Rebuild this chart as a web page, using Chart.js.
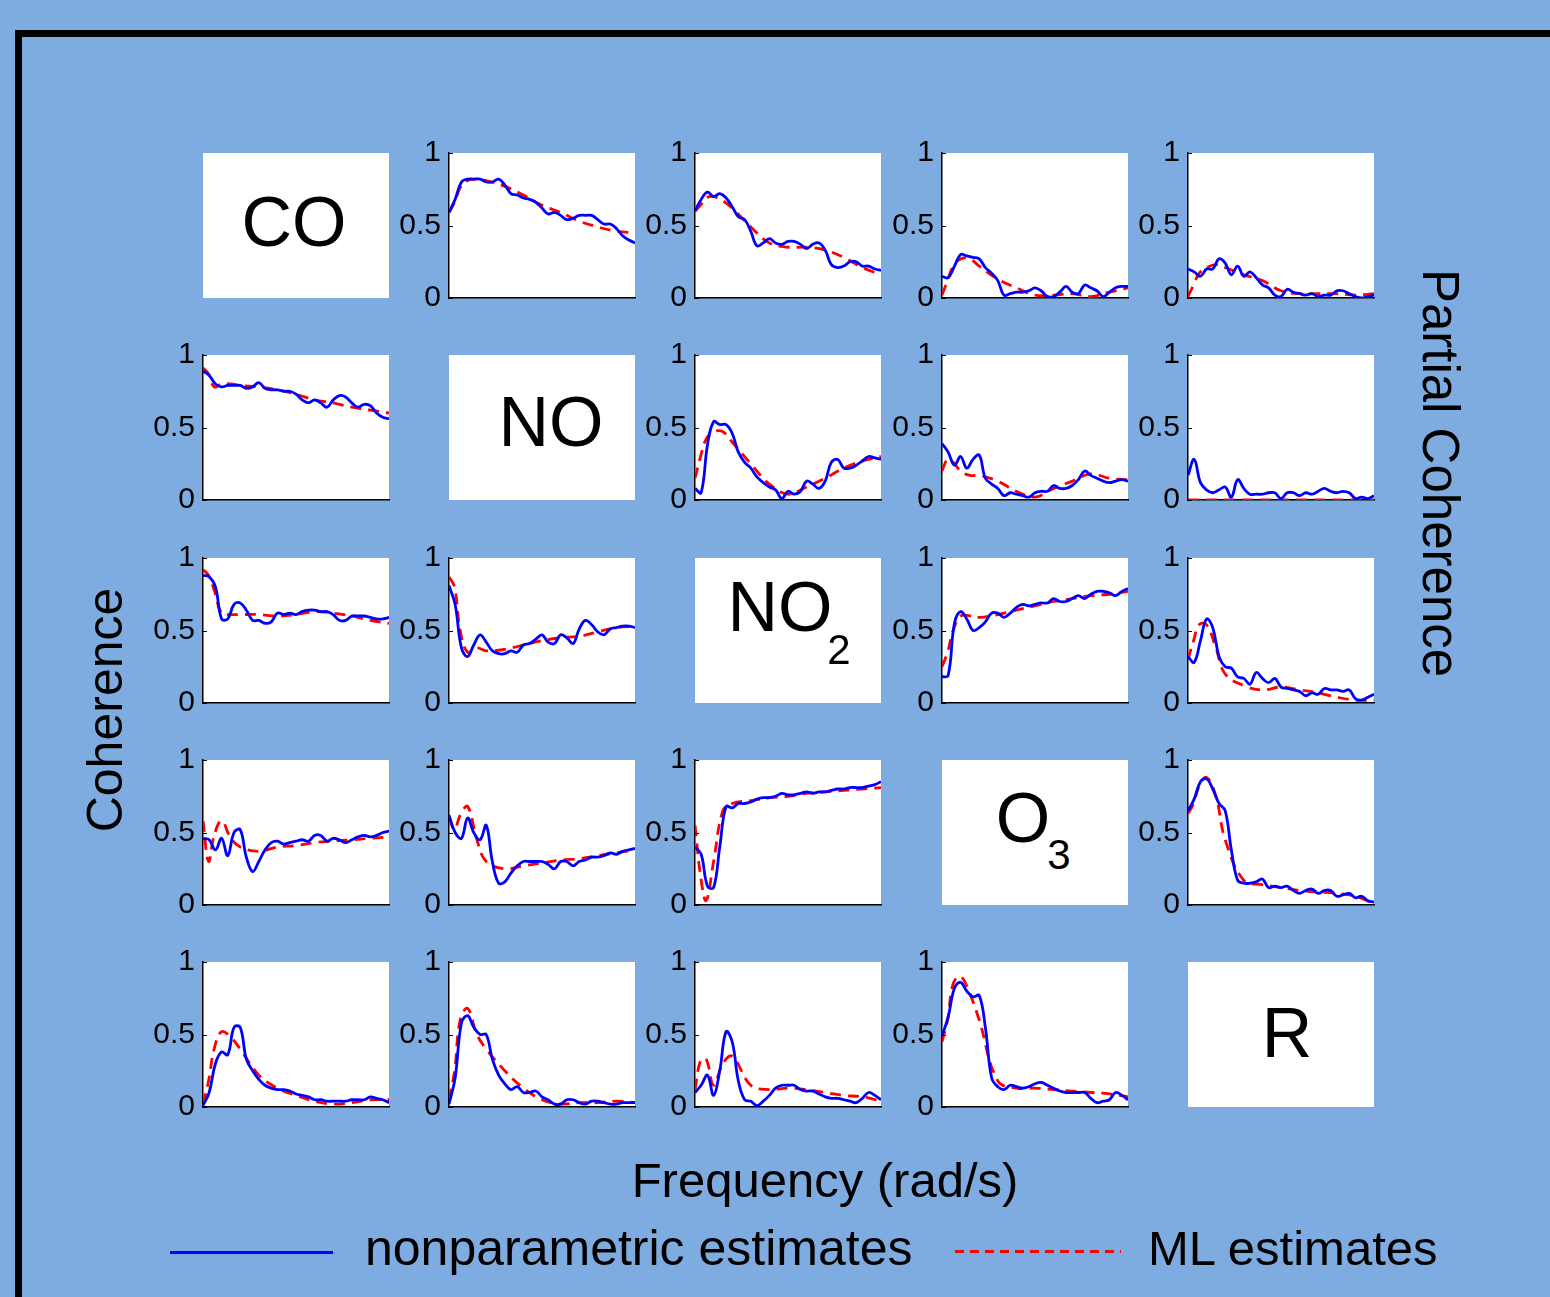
<!DOCTYPE html>
<html>
<head>
<meta charset="utf-8">
<script src="https://cdn.jsdelivr.net/npm/chart.js@4.4.0/dist/chart.umd.min.js"></script>
<style>
body{margin:0;background:#7EACE0;width:1550px;height:1297px;overflow:hidden;position:relative;font-family:"Liberation Sans",Arial,sans-serif;}
#frame{position:absolute;left:15px;top:30px;width:1600px;height:1400px;border-top:7px solid #000;border-left:7px solid #000;}
.cell{position:absolute;width:258px;height:205px;}
.diag{position:absolute;background:#fff;width:186px;height:145px;}
.lbl{position:absolute;white-space:nowrap;line-height:1;color:#000;transform:translate(-50%,-50%);}
.leg{position:absolute;white-space:nowrap;line-height:1;color:#000;font-size:50px;transform:translate(0,-50%);}
</style>
</head>
<body>
<div id="frame"></div>
<div id="grid"></div>

<div class="lbl" style="left:105px;top:710px;font-size:50px;transform:translate(-50%,-50%) rotate(-90deg);">Coherence</div>
<div class="lbl" style="left:1440px;top:473px;font-size:51px;transform:translate(-50%,-50%) rotate(90deg);">Partial Coherence</div>
<div class="lbl" style="left:825px;top:1180px;font-size:49px;">Frequency (rad/s)</div>

<div style="position:absolute;left:170px;top:1251px;width:163px;height:3px;background:#0000FF;"></div>
<div class="leg" style="left:365px;top:1248px;">nonparametric estimates</div>
<div style="position:absolute;left:955px;top:1250px;width:166px;height:3px;background:repeating-linear-gradient(to right,#FF0000 0 9px,transparent 9px 15px);"></div>
<div class="leg" style="left:1148px;top:1248px;font-size:49px;">ML estimates</div>

<script>
// frequency grids (normalised)
const freqNP = [0,.033,.067,.1,.133,.167,.2,.233,.267,.3,.333,.367,.4,.433,.467,.5,.533,.567,.6,.633,.667,.7,.733,.767,.8,.833,.867,.9,.933,.967,1];
const freqML = [0,.03,.06,.1,.15,.2,.3,.4,.5,.6,.7,.8,.9,1];
const yTicks = [0, 0.5, 1];
const species = ["CO", "NO", "NO2", "O3", "R"];

// row 1 (partial coherence)
const np_1_2 = [.59,.68,.80,.82,.82,.82,.80,.80,.82,.78,.72,.71,.69,.68,.66,.62,.58,.59,.57,.54,.55,.57,.57,.57,.54,.51,.51,.48,.43,.40,.38];
const ml_1_2 = [.59,.66,.76,.81,.82,.81,.77,.71,.64,.59,.53,.49,.46,.45];
const np_1_3 = [.60,.68,.73,.70,.72,.69,.63,.56,.54,.46,.36,.38,.41,.38,.37,.39,.39,.37,.34,.37,.38,.33,.23,.21,.22,.25,.25,.22,.22,.20,.19];
const ml_1_3 = [.60,.64,.69,.70,.67,.62,.49,.38,.35,.35,.33,.28,.21,.16];
const np_1_4 = [.15,.14,.22,.30,.29,.28,.27,.21,.17,.12,.02,.03,.04,.04,.05,.07,.05,.01,.01,.04,.08,.04,.03,.09,.07,.05,.01,.04,.07,.08,.08];
const ml_1_4 = [.02,.12,.22,.27,.27,.22,.13,.07,.02,.02,.03,.01,.04,.07];
const np_1_5 = [.20,.18,.15,.20,.20,.27,.24,.16,.22,.15,.18,.14,.09,.07,.02,.01,.06,.04,.03,.02,.03,.01,.02,.02,.05,.05,.03,.01,.00,.01,.02];
const ml_1_5 = [.01,.09,.17,.21,.23,.21,.16,.12,.05,.03,.03,.03,.02,.03];

// row 2
const np_2_1 = [.89,.86,.80,.78,.79,.79,.79,.77,.78,.81,.77,.76,.76,.75,.75,.73,.69,.67,.69,.67,.64,.69,.72,.71,.67,.64,.66,.65,.60,.57,.56];
const ml_2_1 = [.91,.87,.78,.80,.80,.79,.78,.76,.73,.69,.67,.64,.62,.60];
const np_2_3 = [.08,.05,.38,.54,.52,.52,.46,.33,.26,.22,.16,.12,.09,.07,.01,.06,.04,.06,.13,.11,.08,.13,.26,.28,.22,.22,.24,.27,.30,.29,.28];
const ml_2_3 = [.15,.30,.42,.47,.47,.40,.25,.11,.04,.09,.15,.22,.27,.30];
const np_2_4 = [.39,.33,.24,.30,.22,.28,.31,.15,.11,.08,.03,.05,.04,.03,.02,.05,.06,.06,.10,.08,.08,.10,.14,.20,.17,.15,.13,.12,.13,.14,.13];
const ml_2_4 = [.20,.28,.26,.20,.17,.17,.13,.06,.02,.08,.13,.18,.15,.14];
const np_2_5 = [.17,.28,.12,.07,.05,.07,.09,.02,.14,.08,.04,.04,.04,.05,.05,.01,.05,.05,.03,.05,.04,.06,.08,.06,.05,.06,.05,.01,.02,.01,.03];
const ml_2_5 = [0,0,0,0,0,0,0,0,0,0,0,0,0,0];

// row 3
const np_3_1 = [.88,.87,.80,.58,.58,.68,.69,.64,.57,.57,.55,.56,.62,.61,.62,.61,.63,.64,.64,.63,.63,.61,.57,.57,.60,.60,.60,.59,.58,.58,.59];
const ml_3_1 = [.92,.88,.78,.62,.61,.61,.61,.60,.61,.63,.62,.60,.57,.55];
const np_3_2 = [.81,.68,.38,.32,.40,.47,.42,.36,.34,.34,.36,.35,.40,.41,.44,.47,.42,.41,.47,.45,.41,.51,.57,.54,.49,.47,.51,.52,.53,.53,.52];
const ml_3_2 = [.87,.80,.50,.35,.38,.36,.37,.40,.43,.45,.46,.49,.52,.53];
const np_3_4 = [.18,.19,.55,.63,.58,.50,.52,.56,.62,.62,.59,.62,.66,.68,.67,.68,.69,.69,.72,.70,.70,.72,.74,.72,.75,.77,.77,.76,.74,.77,.79];
const ml_3_4 = [.25,.35,.50,.60,.60,.59,.61,.64,.67,.70,.72,.74,.75,.77];
const np_3_5 = [.32,.28,.43,.58,.52,.32,.25,.24,.18,.17,.13,.21,.17,.14,.17,.11,.10,.09,.08,.05,.07,.06,.10,.09,.09,.08,.09,.03,.02,.04,.06];
const ml_3_5 = [.30,.43,.54,.54,.38,.20,.12,.09,.11,.09,.07,.04,.02,.02];

// row 4
const np_4_1 = [.46,.45,.38,.46,.34,.50,.52,.33,.23,.30,.38,.43,.44,.42,.43,.44,.45,.44,.48,.48,.44,.46,.45,.43,.45,.47,.48,.47,.48,.50,.51];
const ml_4_1 = [.58,.30,.48,.58,.46,.40,.37,.40,.41,.43,.44,.45,.46,.47];
const np_4_2 = [.62,.50,.46,.60,.50,.45,.55,.30,.15,.16,.22,.27,.30,.30,.30,.30,.28,.25,.30,.30,.27,.30,.31,.33,.33,.34,.36,.35,.37,.38,.39];
const ml_4_2 = [.60,.52,.62,.68,.45,.30,.25,.27,.29,.31,.32,.34,.36,.38];
const np_4_3 = [.40,.35,.13,.12,.40,.68,.67,.70,.70,.71,.73,.74,.74,.75,.77,.76,.76,.77,.78,.77,.78,.78,.79,.80,.80,.81,.81,.81,.82,.83,.85];
const ml_4_3 = [.55,.20,.03,.30,.65,.70,.72,.74,.75,.77,.78,.79,.80,.81];
const np_4_5 = [.65,.73,.85,.87,.80,.70,.65,.38,.17,.15,.15,.16,.18,.12,.13,.12,.13,.10,.08,.10,.11,.08,.10,.10,.06,.07,.08,.05,.06,.03,.02];
const ml_4_5 = [.63,.70,.82,.88,.75,.45,.17,.14,.12,.10,.09,.08,.06,.01];

// row 5
const np_5_1 = [.01,.10,.30,.38,.36,.55,.55,.33,.25,.19,.15,.13,.12,.12,.11,.09,.08,.07,.05,.05,.04,.04,.04,.04,.05,.05,.05,.07,.06,.05,.03];
const ml_5_1 = [.02,.18,.40,.52,.48,.40,.22,.13,.08,.04,.02,.03,.05,.05];
const np_5_2 = [.02,.20,.58,.63,.55,.50,.50,.33,.22,.16,.12,.14,.10,.10,.11,.07,.05,.02,.02,.05,.05,.03,.02,.04,.04,.03,.02,.02,.03,.03,.03];
const ml_5_2 = [.05,.25,.60,.68,.50,.40,.25,.13,.05,.02,.03,.03,.04,.03];
const np_5_3 = [.10,.15,.22,.08,.25,.52,.45,.18,.05,.04,.01,.04,.08,.13,.15,.15,.15,.12,.11,.11,.09,.07,.06,.06,.05,.04,.03,.06,.10,.08,.05];
const ml_5_3 = [.12,.32,.33,.15,.30,.35,.15,.12,.13,.12,.10,.08,.07,.04];
const np_5_4 = [.49,.62,.82,.86,.80,.76,.77,.55,.20,.14,.12,.15,.14,.13,.14,.16,.17,.15,.13,.11,.10,.10,.10,.10,.06,.03,.04,.05,.10,.08,.05];
const ml_5_4 = [.45,.60,.85,.90,.78,.60,.18,.13,.13,.12,.11,.10,.09,.07];

const panels = {
  "1_2": [np_1_2, ml_1_2], "1_3": [np_1_3, ml_1_3], "1_4": [np_1_4, ml_1_4], "1_5": [np_1_5, ml_1_5],
  "2_1": [np_2_1, ml_2_1], "2_3": [np_2_3, ml_2_3], "2_4": [np_2_4, ml_2_4], "2_5": [np_2_5, ml_2_5],
  "3_1": [np_3_1, ml_3_1], "3_2": [np_3_2, ml_3_2], "3_4": [np_3_4, ml_3_4], "3_5": [np_3_5, ml_3_5],
  "4_1": [np_4_1, ml_4_1], "4_2": [np_4_2, ml_4_2], "4_3": [np_4_3, ml_4_3], "4_5": [np_4_5, ml_4_5],
  "5_1": [np_5_1, ml_5_1], "5_2": [np_5_2, ml_5_2], "5_3": [np_5_3, ml_5_3], "5_4": [np_5_4, ml_5_4]
};

const colLeft = [203, 449, 695, 942, 1188];
const rowTop = [153, 355, 558, 760, 962];
const PW = 186, PH = 145, YW = 70, PAD = 30;

// white plot box + small inward ticks like matlab
const panelBox = {
  id: "panelBox",
  beforeDraw(chart) {
    const a = chart.chartArea;
    const ctx = chart.ctx;
    ctx.save();
    ctx.fillStyle = "#fff";
    ctx.fillRect(a.left, a.top, a.right - a.left, a.bottom - a.top);
    ctx.restore();
  },
  afterDraw(chart) {
    const a = chart.chartArea;
    const ctx = chart.ctx;
    const y = chart.scales.y;
    ctx.save();
    ctx.strokeStyle = "#000";
    ctx.lineWidth = 1;
    yTicks.forEach((t) => {
      let py = Math.round(y.getPixelForValue(t)) + 0.5;
      ctx.beginPath();
      ctx.moveTo(a.left, py);
      ctx.lineTo(a.left + 4, py);
      ctx.stroke();
    });
    ctx.restore();
  }
};

const grid = document.getElementById("grid");

function diagBox(r, c) {
  let d = document.createElement("div");
  d.className = "diag";
  d.style.left = colLeft[c] + "px";
  d.style.top = rowTop[r] + "px";
  grid.appendChild(d);
}

function textAt(x, y, size, txt) {
  let t = document.createElement("div");
  t.className = "lbl";
  t.style.left = x + "px";
  t.style.top = y + "px";
  t.style.fontSize = size + "px";
  t.textContent = txt;
  document.body.appendChild(t);
}

function makePanel(r, c, np, ml) {
  let box = document.createElement("div");
  box.className = "cell";
  box.style.left = colLeft[c] - YW + "px";
  box.style.top = rowTop[r] - PAD + "px";
  let cv = document.createElement("canvas");
  box.appendChild(cv);
  grid.appendChild(box);

  new Chart(cv.getContext("2d"), {
    type: "line",
    data: {
      datasets: [
        {
          label: "nonparametric estimates",
          data: freqNP.map((f, i) => ({ x: f, y: np[i] })),
          borderColor: "#0000FF",
          borderWidth: 2.8,
          pointRadius: 0,
          tension: 0.4,
          fill: false
        },
        {
          label: "ML estimates",
          data: freqML.map((f, i) => ({ x: f, y: ml[i] })),
          borderColor: "#FF0000",
          borderWidth: 2.8,
          borderDash: [11, 7],
          pointRadius: 0,
          tension: 0.4,
          fill: false
        }
      ]
    },
    options: {
      responsive: true,
      maintainAspectRatio: false,
      animation: false,
      layout: { padding: { top: PAD, bottom: PAD, left: 0, right: 2 } },
      plugins: { legend: { display: false }, tooltip: { enabled: false } },
      scales: {
        x: {
          type: "linear",
          min: 0,
          max: 1,
          ticks: { display: false },
          grid: { display: false, drawTicks: false },
          border: { display: true, color: "#000", width: 1.5 },
          afterFit: (s) => { s.height = 0; }
        },
        y: {
          min: 0,
          max: 1,
          afterBuildTicks: (s) => { s.ticks = yTicks.map((v) => ({ value: v })); },
          ticks: {
            color: "#000",
            padding: 8,
            font: { family: "Liberation Sans", size: 30 },
            callback: (v) => String(v)
          },
          grid: { display: false, drawTicks: false },
          border: { display: true, color: "#000", width: 1.5 },
          afterFit: (s) => { s.width = YW; }
        }
      }
    },
    plugins: [panelBox]
  });
}

for (let r = 0; r < 5; r++) {
  for (let c = 0; c < 5; c++) {
    if (r == c) {
      diagBox(r, c);
    } else {
      let p = panels[(r + 1) + "_" + (c + 1)];
      makePanel(r, c, p[0], p[1]);
    }
  }
}

// species names on the diagonal
textAt(294, 222, 70, "CO");
textAt(551, 422, 70, "NO");
textAt(780, 607, 70, "NO");
textAt(839, 650, 42, "2");
textAt(1023, 818, 70, "O");
textAt(1059, 855, 42, "3");
textAt(1287, 1033, 70, "R");
</script>
</body>
</html>
